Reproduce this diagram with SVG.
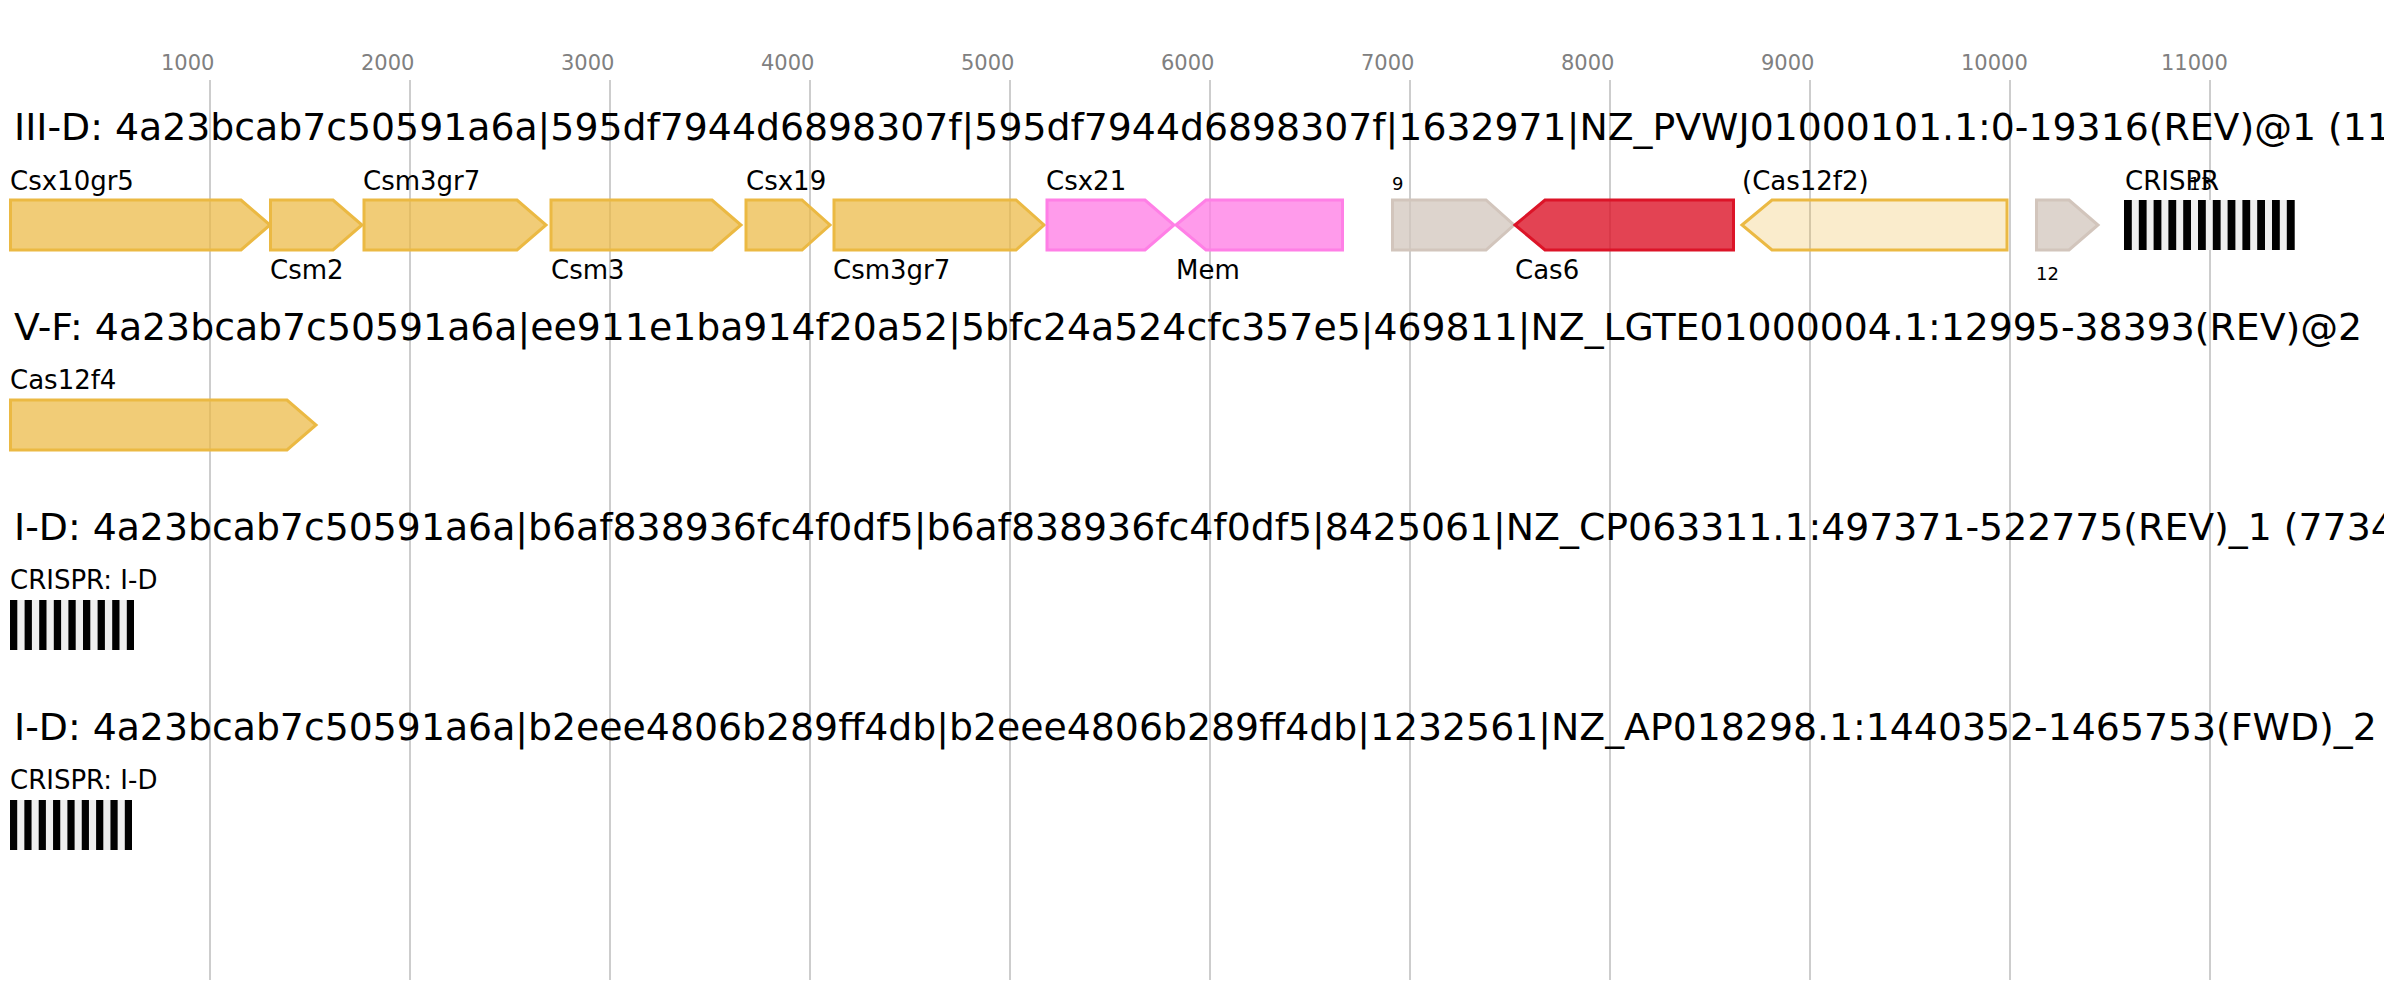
<svg xmlns="http://www.w3.org/2000/svg" width="2384" height="1000" viewBox="0 0 2384 1000">
<style>
text{font-family:"DejaVu Sans","Liberation Sans",sans-serif;}
.grid{stroke:#bdbdbd;stroke-width:1.5;}
.tick{font-size:21px;fill:#808080;}
.title{font-size:37.8px;fill:#000;}
.lbl{font-size:26px;fill:#000;}
.num{font-size:18px;fill:#000;}
.gold{fill:#ebb943;fill-opacity:.72;stroke:#ebb943;stroke-width:3;}
.pale{fill:#ebb943;fill-opacity:.27;stroke:#ebb943;stroke-width:3;}
.pink{fill:#ff7fe6;fill-opacity:.78;stroke:#ff7fe6;stroke-width:3;}
.red{fill:#dc1428;fill-opacity:.8;stroke:#dc1428;stroke-width:3;}
.gray{fill:#d2c5bc;fill-opacity:.75;stroke:#d2c5bc;stroke-width:3;}
.arr{fill:#eeeeee;}
.rep{fill:#000;}
</style>
<rect width="2384" height="1000" fill="#fff"/>
<g id="axis">
<line class="grid" x1="210" y1="80" x2="210" y2="980"/>
<line class="grid" x1="410" y1="80" x2="410" y2="980"/>
<line class="grid" x1="610" y1="80" x2="610" y2="980"/>
<line class="grid" x1="810" y1="80" x2="810" y2="980"/>
<line class="grid" x1="1010" y1="80" x2="1010" y2="980"/>
<line class="grid" x1="1210" y1="80" x2="1210" y2="980"/>
<line class="grid" x1="1410" y1="80" x2="1410" y2="980"/>
<line class="grid" x1="1610" y1="80" x2="1610" y2="980"/>
<line class="grid" x1="1810" y1="80" x2="1810" y2="980"/>
<line class="grid" x1="2010" y1="80" x2="2010" y2="980"/>
<line class="grid" x1="2210" y1="80" x2="2210" y2="980"/>
<text class="tick" x="161" y="70">1000</text>
<text class="tick" x="361" y="70">2000</text>
<text class="tick" x="561" y="70">3000</text>
<text class="tick" x="761" y="70">4000</text>
<text class="tick" x="961" y="70">5000</text>
<text class="tick" x="1161" y="70">6000</text>
<text class="tick" x="1361" y="70">7000</text>
<text class="tick" x="1561" y="70">8000</text>
<text class="tick" x="1761" y="70">9000</text>
<text class="tick" x="1961" y="70">10000</text>
<text class="tick" x="2161" y="70">11000</text>
</g>
<g id="titles">
<text class="title" x="14" y="140">III-D: 4a23bcab7c50591a6a|595df7944d6898307f|595df7944d6898307f|1632971|NZ_PVWJ01000101.1:0-19316(REV)@1 (11</text>
<text class="title" x="14" y="340">V-F: 4a23bcab7c50591a6a|ee911e1ba914f20a52|5bfc24a524cfc357e5|469811|NZ_LGTE01000004.1:12995-38393(REV)@2</text>
<text class="title" x="14" y="540">I-D: 4a23bcab7c50591a6a|b6af838936fc4f0df5|b6af838936fc4f0df5|8425061|NZ_CP063311.1:497371-522775(REV)_1 (7734</text>
<text class="title" x="14" y="740">I-D: 4a23bcab7c50591a6a|b2eee4806b289ff4db|b2eee4806b289ff4db|1232561|NZ_AP018298.1:1440352-1465753(FWD)_2</text>
</g>
<g id="connectors"></g>
<g id="r1g1"><path class="gold" d="M10.5,200 L241,200 L270,225 L241,250 L10.5,250 Z"/><text class="lbl" x="10" y="190">Csx10gr5</text></g>
<g id="r1g2"><path class="gold" d="M270.5,200 L333,200 L362,225 L333,250 L270.5,250 Z"/><text class="lbl" x="270" y="279">Csm2</text></g>
<g id="r1g3"><path class="gold" d="M364,200 L517,200 L546,225 L517,250 L364,250 Z"/><text class="lbl" x="363" y="190">Csm3gr7</text></g>
<g id="r1g4"><path class="gold" d="M551,200 L712,200 L741,225 L712,250 L551,250 Z"/><text class="lbl" x="551" y="279">Csm3</text></g>
<g id="r1g5"><path class="gold" d="M746,200 L802,200 L830,225 L802,250 L746,250 Z"/><text class="lbl" x="746" y="190">Csx19</text></g>
<g id="r1g6"><path class="gold" d="M834,200 L1016,200 L1044,225 L1016,250 L834,250 Z"/><text class="lbl" x="833" y="279">Csm3gr7</text></g>
<g id="r1g7"><path class="pink" d="M1047,200 L1145,200 L1174,225 L1145,250 L1047,250 Z"/><text class="lbl" x="1046" y="190">Csx21</text></g>
<g id="r1g8"><path class="pink" d="M1176,225 L1206,200 L1342.5,200 L1342.5,250 L1206,250 Z"/><text class="lbl" x="1176" y="279">Mem</text></g>
<g id="r1g9"><path class="gray" d="M1392.5,200 L1486,200 L1514,225 L1486,250 L1392.5,250 Z"/><text class="num" x="1392" y="190">9</text></g>
<g id="r1g10"><path class="red" d="M1515,225 L1545,200 L1733.5,200 L1733.5,250 L1545,250 Z"/><text class="lbl" x="1515" y="279">Cas6</text></g>
<g id="r1g11"><path class="pale" d="M1742,225 L1772,200 L2007,200 L2007,250 L1772,250 Z"/><text class="lbl" x="1742" y="190">(Cas12f2)</text></g>
<g id="r1g12"><path class="gray" d="M2036.5,200 L2069,200 L2098,225 L2069,250 L2036.5,250 Z"/><text class="num" x="2036" y="280">12</text></g>
<g id="r1crispr">
<rect class="arr" x="2124" y="200" width="170.7" height="50"/>
<rect class="rep" x="2124" y="200" width="7.8" height="50"/>
<rect class="rep" x="2138.8" y="200" width="7.8" height="50"/>
<rect class="rep" x="2153.6" y="200" width="7.8" height="50"/>
<rect class="rep" x="2168.4" y="200" width="7.8" height="50"/>
<rect class="rep" x="2183.2" y="200" width="7.8" height="50"/>
<rect class="rep" x="2198" y="200" width="7.8" height="50"/>
<rect class="rep" x="2212.8" y="200" width="7.8" height="50"/>
<rect class="rep" x="2227.6" y="200" width="7.8" height="50"/>
<rect class="rep" x="2242.4" y="200" width="7.8" height="50"/>
<rect class="rep" x="2257.2" y="200" width="7.8" height="50"/>
<rect class="rep" x="2272" y="200" width="7.8" height="50"/>
<rect class="rep" x="2286.8" y="200" width="7.9" height="50"/>
<text class="lbl" x="2125" y="190">CRISPR</text>
<text class="num" x="2189" y="190">13</text>
</g>
<g id="r2g1"><path class="gold" d="M10.5,400 L287,400 L316,425 L287,450 L10.5,450 Z"/><text class="lbl" x="10" y="389">Cas12f4</text></g>
<g id="r3crispr">
<rect class="arr" x="10" y="600" width="124" height="50"/>
<rect class="rep" x="10" y="600" width="7.3" height="50"/>
<rect class="rep" x="24.6" y="600" width="7.3" height="50"/>
<rect class="rep" x="39.2" y="600" width="7.3" height="50"/>
<rect class="rep" x="53.8" y="600" width="7.3" height="50"/>
<rect class="rep" x="68.4" y="600" width="7.3" height="50"/>
<rect class="rep" x="83" y="600" width="7.3" height="50"/>
<rect class="rep" x="97.6" y="600" width="7.3" height="50"/>
<rect class="rep" x="112.2" y="600" width="7.3" height="50"/>
<rect class="rep" x="126.8" y="600" width="7.2" height="50"/>
<text class="lbl" x="10" y="589">CRISPR: I-D</text>
</g>
<g id="r4crispr">
<rect class="arr" x="10" y="800" width="122" height="50"/>
<rect class="rep" x="10" y="800" width="7.2" height="50"/>
<rect class="rep" x="24.35" y="800" width="7.2" height="50"/>
<rect class="rep" x="38.7" y="800" width="7.2" height="50"/>
<rect class="rep" x="53.05" y="800" width="7.2" height="50"/>
<rect class="rep" x="67.4" y="800" width="7.2" height="50"/>
<rect class="rep" x="81.75" y="800" width="7.2" height="50"/>
<rect class="rep" x="96.1" y="800" width="7.2" height="50"/>
<rect class="rep" x="110.45" y="800" width="7.2" height="50"/>
<rect class="rep" x="124.8" y="800" width="7.2" height="50"/>
<text class="lbl" x="10" y="789">CRISPR: I-D</text>
</g>
</svg>
